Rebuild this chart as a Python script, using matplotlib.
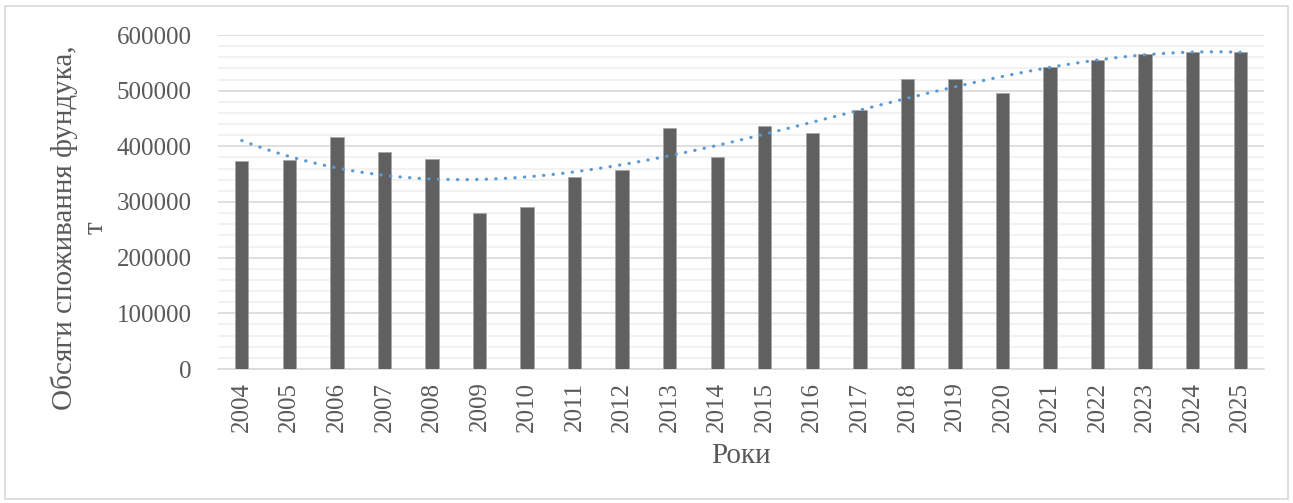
import numpy as np
import matplotlib
matplotlib.use("Agg")
import matplotlib.pyplot as plt
from matplotlib.patches import Rectangle

years = [str(y) for y in range(2004, 2026)]
consumption = [373000, 376000, 416000, 390000, 378000, 280000, 291000,
               345000, 357000, 433000, 381000, 436000, 424000, 466000,
               521000, 521000, 496000, 542000, 555000, 565000, 569000, 569000]

plt.rcParams['font.family'] = ['Liberation Serif', 'DejaVu Serif']

fig = plt.figure(figsize=(12.93, 5.03), dpi=100)
ax = fig.add_axes([218 / 1293, 1 - 369 / 503, (1264 - 218) / 1293, (369 - 35) / 503])

x = np.arange(len(years))
ax.bar(x, consumption, width=0.28, color='#606060', edgecolor='#a6a6a6',
       linewidth=0.6, zorder=3)

# polynomial (3rd order) trendline, as in Excel
xs = np.arange(1, len(years) + 1)
coef = np.polyfit(xs, consumption, 3)
xt = np.linspace(1, len(years), 200)
ax.plot(xt - 1, np.polyval(coef, xt), color='#5b9bd5', linewidth=2.3,
        linestyle=(0, (0.1, 2.9)), dash_capstyle='round', zorder=4)

ax.set_xlim(-0.5, len(years) - 0.5)
ax.set_ylim(0, 600000)
ax.set_yticks(np.arange(0, 600001, 100000))
ax.set_yticks(np.arange(0, 600001, 20000), minor=True)
ax.grid(axis='y', which='major', color='#d9d9d9', linewidth=1.2, zorder=0)
ax.grid(axis='y', which='minor', color='#f0f0f0', linewidth=1.2, zorder=0)
ax.set_xticks(x)
ax.set_xticklabels(years, rotation=90)
ax.tick_params(axis='both', which='both', length=0, labelsize=18, colors='#595959')
ax.tick_params(axis='y', pad=19)
ax.tick_params(axis='x', pad=9)
for s in ['top', 'right', 'left']:
    ax.spines[s].set_visible(False)
ax.spines['bottom'].set_color('#d9d9d9')
ax.spines['bottom'].set_linewidth(1.2)

ax.set_xlabel('Роки', fontsize=21, color='#595959', labelpad=8)
ax.set_ylabel('Обсяги споживання фундука,\nт', fontsize=21, color='#595959',
              linespacing=1.2)
ax.yaxis.set_label_coords(-0.105, 0.422)

fig.patches.append(Rectangle((5 / 1293, 4 / 503), 1283 / 1293, 493 / 503,
                             transform=fig.transFigure, fill=False,
                             edgecolor='#d9d9d9', linewidth=1.2))

fig.savefig('out.png', dpi=100)
